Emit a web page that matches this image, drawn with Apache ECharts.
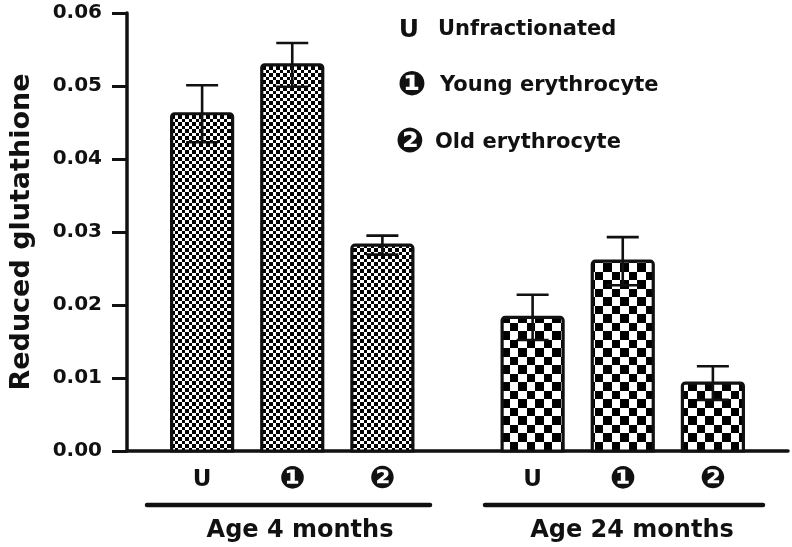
<!DOCTYPE html>
<html>
<head>
<meta charset="utf-8">
<script src="https://cdn.jsdelivr.net/npm/echarts@6/dist/echarts.min.js"></script>
<style>
html,body{margin:0;padding:0;background:#fff;}
#chart{width:792px;height:547px;}
</style>
</head>
<body>
<div id="chart"></div>
<script>
// ---- data ----
const categories = ['U', '❶', '❷'];
const groups = ['Age 4 months', 'Age 24 months'];
const mean4 = [0.0462, 0.0529, 0.0282];
const err4 = [0.0039, 0.0030, 0.0013];
const mean24 = [0.0183, 0.0260, 0.0093];
const err24 = [0.0031, 0.0033, 0.0023];
const legendLabels = ['Unfractionated', 'Young erythrocyte', 'Old erythrocyte'];
const yMin = 0, yMax = 0.06, yStep = 0.01;

// ---- layout (slots on a category axis) ----
const SLOTS = 22;
const groupStart = [2, 13];
const slotStep = 3;

function makeChecker(a, b) {
  const s = a + b;
  const c = document.createElement('canvas');
  c.width = s; c.height = s;
  const g = c.getContext('2d');
  g.fillStyle = '#fff'; g.fillRect(0, 0, s, s);
  g.fillStyle = '#000';
  g.fillRect(0, 0, a, a);
  g.fillRect(a, a, b, b);
  return c;
}
const patterns = [
  { image: makeChecker(3, 4), repeat: 'repeat' },
  { image: makeChecker(8, 9), repeat: 'repeat' }
];

const xData = new Array(SLOTS).fill('');
const barData = [];
[mean4, mean24].forEach((arr, gi) => {
  const errs = gi === 0 ? err4 : err24;
  arr.forEach((v, i) => {
    const slot = groupStart[gi] + i * slotStep;
    xData[slot] = categories[i];
    barData.push([slot, v, errs[i], gi]);
  });
});

const FONT = 'DejaVu Sans';
const chart = echarts.init(document.getElementById('chart'));
chart.setOption({
  backgroundColor: '#fff',
  animation: false,
  grid: { left: 125, right: 4, top: 13, bottom: 96, containLabel: false },
  xAxis: {
    type: 'category',
    data: xData,
    axisLine: { lineStyle: { color: '#111', width: 3.5 } },
    axisTick: { show: false },
    axisLabel: {
      interval: 0, margin: 14, color: '#111', fontFamily: FONT, fontWeight: 'bold',
      formatter: v => v === '' ? '' : (v === 'U' ? '{u|U}' : '{c|' + v + '}'),
      rich: {
        u: { fontSize: 23, lineHeight: 30, fontFamily: FONT, fontWeight: 'bold', color: '#111', verticalAlign: 'middle' },
        c: { fontSize: 31, lineHeight: 30, fontFamily: FONT, fontWeight: 'bold', color: '#111', verticalAlign: 'middle' }
      }
    }
  },
  yAxis: {
    type: 'value',
    min: yMin, max: yMax, interval: yStep,
    name: 'Reduced glutathione',
    nameLocation: 'middle',
    nameRotate: 90,
    nameGap: 92,
    nameTextStyle: { color: '#111', fontFamily: FONT, fontWeight: 'bold', fontSize: 27 },
    axisLine: { show: true, lineStyle: { color: '#111', width: 3.5 } },
    axisTick: { show: true, length: 15, lineStyle: { color: '#111', width: 3 } },
    splitLine: { show: false },
    axisLabel: { margin: 25, color: '#111', fontFamily: FONT, fontWeight: 'bold', fontSize: 20,
      formatter: v => v.toFixed(2) }
  },
  series: [
    {
      type: 'custom',
      data: barData,
      z: 2,
      renderItem: function (params, api) {
        const x = api.value(0), v = api.value(1), gi = api.value(3);
        const top = api.coord([x, v]);
        const base = api.coord([x, 0]);
        const w = 61;
        return {
          type: 'rect',
          shape: { x: top[0] - w / 2, y: top[1], width: w, height: base[1] - top[1], r: [3, 3, 0, 0] },
          style: { fill: patterns[gi], stroke: '#111', lineWidth: 3.2 }
        };
      }
    },
    {
      type: 'custom',
      data: barData,
      z: 3,
      renderItem: function (params, api) {
        const x = api.value(0), v = api.value(1), e = api.value(2);
        const hi = api.coord([x, v + e]);
        const lo = api.coord([x, v - e]);
        const cw = 16;
        const st = { stroke: '#111', lineWidth: 2.6 };
        return {
          type: 'group',
          children: [
            { type: 'line', shape: { x1: hi[0], y1: hi[1], x2: lo[0], y2: lo[1] }, style: st },
            { type: 'line', shape: { x1: hi[0] - cw, y1: hi[1], x2: hi[0] + cw, y2: hi[1] }, style: st },
            { type: 'line', shape: { x1: lo[0] - cw, y1: lo[1], x2: lo[0] + cw, y2: lo[1] }, style: st }
          ]
        };
      }
    }
  ],
  graphic: [
    // legend
    { type: 'text', x: 409, y: 30, style: { text: categories[0], align: 'center', verticalAlign: 'middle', fill: '#111', font: 'bold 25px "DejaVu Sans"' } },
    { type: 'text', x: 412, y: 86, style: { text: categories[1], align: 'center', verticalAlign: 'middle', fill: '#111', font: 'bold 34px "DejaVu Sans"' } },
    { type: 'text', x: 410, y: 143, style: { text: categories[2], align: 'center', verticalAlign: 'middle', fill: '#111', font: 'bold 34px "DejaVu Sans"' } },
    { type: 'text', x: 438, y: 30, style: { text: legendLabels[0], align: 'left', verticalAlign: 'middle', fill: '#111', font: 'bold 21px "DejaVu Sans"' } },
    { type: 'text', x: 440, y: 86, style: { text: legendLabels[1], align: 'left', verticalAlign: 'middle', fill: '#111', font: 'bold 21px "DejaVu Sans"' } },
    { type: 'text', x: 435, y: 143, style: { text: legendLabels[2], align: 'left', verticalAlign: 'middle', fill: '#111', font: 'bold 21px "DejaVu Sans"' } },
    // group brackets
    { type: 'line', shape: { x1: 147, y1: 505, x2: 430, y2: 505 }, style: { stroke: '#111', lineWidth: 4.5, lineCap: 'round' } },
    { type: 'line', shape: { x1: 485, y1: 505, x2: 763, y2: 505 }, style: { stroke: '#111', lineWidth: 4.5, lineCap: 'round' } },
    { type: 'text', x: 300, y: 531, style: { text: groups[0], align: 'center', verticalAlign: 'middle', fill: '#111', font: 'bold 24px "DejaVu Sans"' } },
    { type: 'text', x: 632, y: 531, style: { text: groups[1], align: 'center', verticalAlign: 'middle', fill: '#111', font: 'bold 24px "DejaVu Sans"' } }
  ]
});
</script>
</body>
</html>
